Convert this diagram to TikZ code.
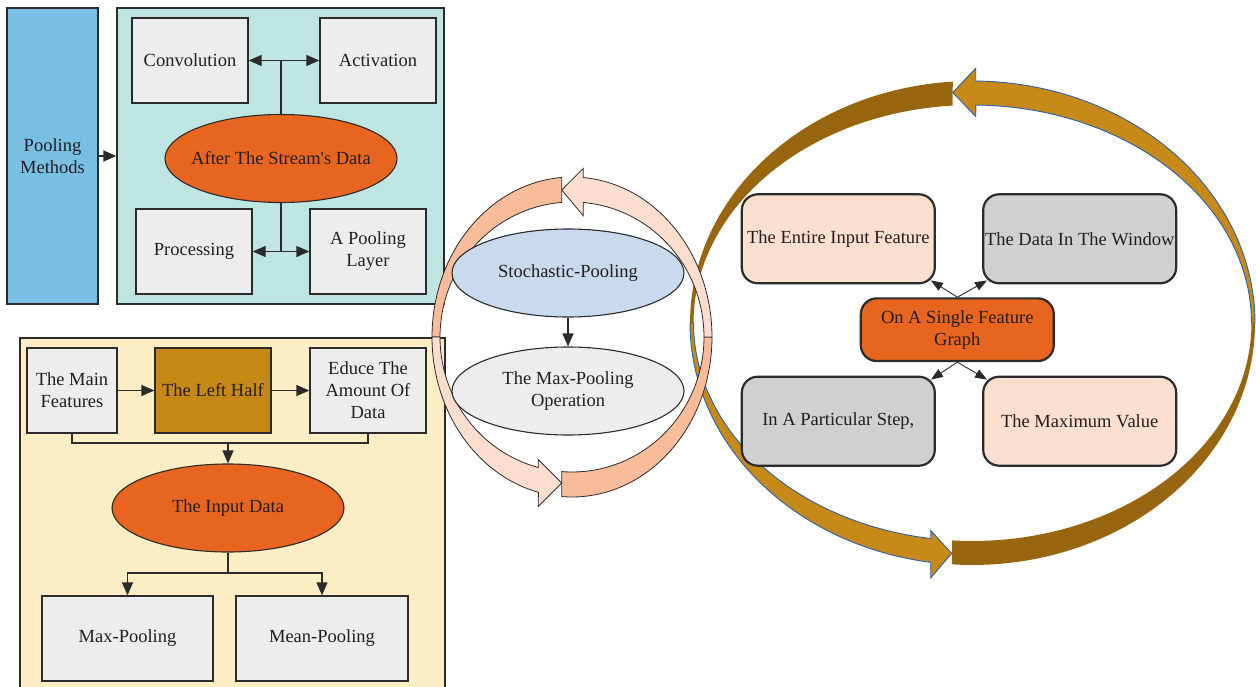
\documentclass[tikz,border=0pt]{standalone}
\usepackage{fontspec}
\setmainfont{Liberation Serif}
\usetikzlibrary{arrows.meta,shapes.geometric}
\definecolor{pmblue}{HTML}{79BFE4}
\definecolor{tealbg}{HTML}{BFE5E3}
\definecolor{boxgray}{HTML}{EDEDED}
\definecolor{orng}{HTML}{E8651F}
\definecolor{yelbg}{HTML}{FDEDC4}
\definecolor{goldbox}{HTML}{C68916}
\definecolor{stoch}{HTML}{C9DAEE}
\definecolor{peach}{HTML}{FCDFCF}
\definecolor{grybox}{HTML}{CFD0D2}
\definecolor{salD}{HTML}{F9BC98}
\definecolor{salL}{HTML}{FDDECE}
\definecolor{brD}{HTML}{97660F}
\definecolor{brL}{HTML}{C78A18}
\definecolor{edge}{HTML}{2B2B2B}
\definecolor{txt}{HTML}{231F20}
\definecolor{blu}{HTML}{2A62A8}
\begin{document}
\begin{tikzpicture}[x=1pt,y=-1pt,
  every node/.style={font=\fontsize{18.5}{22}\selectfont, text=txt},
  panel/.style={draw=edge, line width=1.3, inner sep=0},
  sqbox/.style={draw=edge, line width=1.3, fill=boxgray, minimum width=116, minimum height=85, inner sep=1, align=center},
  ellnode/.style={ellipse, draw=edge, line width=1.1, minimum width=232, minimum height=88, inner sep=0, inner xsep=-8pt, align=center},
  rbox/.style={draw=edge, line width=2.2, rounded corners=16, minimum width=193, minimum height=89, inner sep=1, align=center},
  arr/.style={draw=edge, line width=1.3, -{Triangle[length=13,width=11]}},
  sarr/.style={draw=edge, line width=0.9, -{Triangle[length=12,width=9]}},
  conn/.style={draw=edge, line width=1.3}
]
\useasboundingbox (0,0) rectangle (1256,687);

% ---------------- left top panel ----------------
\node[panel, fill=pmblue, minimum width=91, minimum height=296, align=center] (pm) at (52.5,156) {Pooling\\Methods};
\node[panel, fill=tealbg, minimum width=327, minimum height=296] (tealpanel) at (280.5,156) {};
\node[sqbox] (conv) at (190,60.5) {Convolution};
\node[sqbox] (act) at (378,60.5) {Activation};
\node[ellnode, fill=orng] (stream) at (281,158.5) {After The Stream\textquotesingle s Data};
\node[sqbox] (proc) at (194,251.5) {Processing};
\node[sqbox] (pool) at (368,251.5) {A Pooling\\Layer};
\draw[arr] (pm.east) -- (tealpanel.west);
\coordinate (j1) at (stream.north |- conv.east);
\draw[conn] (stream.north) -- (j1);
\draw[arr] (j1) -- (conv.east);
\draw[arr] (j1) -- (act.west);
\coordinate (j2) at (stream.south |- proc.east);
\draw[conn] (stream.south) -- (j2);
\draw[arr] (j2) -- (proc.east);
\draw[arr] (j2) -- (pool.west);

% ---------------- left bottom panel ----------------
\node[panel, fill=yelbg, minimum width=425, minimum height=362] (yelpanel) at (232.5,519) {};
\node[sqbox, minimum width=90] (mainf) at (72,390.5) {The Main\\Features};
\node[sqbox, fill=goldbox] (lefth) at (213,390.5) {The Left Half};
\node[sqbox] (educe) at (368,390.5) {Educe The\\Amount Of\\Data};
\draw[arr] (mainf.east) -- (lefth.west);
\draw[arr] (lefth.east) -- (educe.west);
\node[ellnode, fill=orng] (input) at (228,508) {The Input Data};
\coordinate (j3) at (228,443);
\draw[conn] (mainf.south) |- (j3) -| (educe.south);
\draw[arr] (j3) -- (input.north);
\node[sqbox, minimum width=171] (maxp) at (127.5,638.5) {Max-Pooling};
\node[sqbox, minimum width=172] (meanp) at (322,638.5) {Mean-Pooling};
\coordinate (j4) at (228,573);
\draw[conn] (input.south) -- (j4);
\draw[arr] (j4) -| (maxp.north);
\draw[arr] (j4) -| (meanp.north);

% ---------------- right big circular arrows ----------------
% arrow A' (bottom -> right -> top)
\fill[brD] plot[domain=94.2:0,samples=50] ({972.5+282.5*cos(\x)},{323+242*sin(\x)})
  -- plot[domain=0:94.2,samples=50] ({972.5+279*cos(\x)},{323+218*sin(\x)}) -- cycle;
\filldraw[fill=brL, draw=blu, line width=0.9] plot[domain=0:-89.35,samples=50] ({972.5+282.5*cos(\x)},{323+242*sin(\x)})
  -- (975.7,68.3) -- (952.7,92.5) -- (975.7,116.5)
  -- plot[domain=-89.3:0,samples=50] ({972.5+279*cos(\x)},{323+218*sin(\x)}) -- cycle;
% arrow B' (top -> left -> bottom)
\fill[brD] plot[domain=266:180,samples=50] ({972.5+282.5*cos(\x)},{323+242*sin(\x)})
  -- plot[domain=180:265.9,samples=50] ({972.5+279*cos(\x)},{323+218*sin(\x)}) -- cycle;
\filldraw[fill=brL, draw=blu, line width=0.9] plot[domain=180:98.5,samples=50] ({972.5+282.5*cos(\x)},{323+242*sin(\x)})
  -- (930.7,578) -- (951.7,553.3) -- (930.7,530.5)
  -- plot[domain=98.6:180,samples=50] ({972.5+279*cos(\x)},{323+218*sin(\x)}) -- cycle;

% ---------------- middle circular arrows ----------------
% arrow A (bottom -> right -> top)
\filldraw[fill=salD, draw=edge, line width=0.8] plot[domain=94.2:0,samples=50] ({572+140*cos(\x)},{337+160*sin(\x)})
  -- plot[domain=0:94.5,samples=50] ({572+132*cos(\x)},{337+135*sin(\x)}) -- cycle;
\filldraw[fill=salL, draw=edge, line width=0.8] plot[domain=0:-85.4,samples=50] ({572+140*cos(\x)},{337+160*sin(\x)})
  -- (583.3,168.3) -- (561.7,190) -- (583.3,215.7)
  -- plot[domain=-85.1:0,samples=50] ({572+132*cos(\x)},{337+135*sin(\x)}) -- cycle;
% arrow B (top -> left -> bottom)
\filldraw[fill=salD, draw=edge, line width=0.8] plot[domain=265.8:180,samples=50] ({572+140*cos(\x)},{337+160*sin(\x)})
  -- plot[domain=180:265.5,samples=50] ({572+132*cos(\x)},{337+135*sin(\x)}) -- cycle;
\filldraw[fill=salL, draw=edge, line width=0.8] plot[domain=180:103.9,samples=50] ({572+140*cos(\x)},{337+160*sin(\x)})
  -- (538.3,506.5) -- (561.7,483) -- (538.3,459.5)
  -- plot[domain=104.8:180,samples=50] ({572+132*cos(\x)},{337+135*sin(\x)}) -- cycle;

\node[ellnode, fill=stoch] (stochp) at (568,273) {Stochastic-Pooling};
\node[ellnode, fill=boxgray] (maxop) at (568,391) {The Max-Pooling\\Operation};
\draw[arr] (stochp.south) -- (maxop.north);

% ---------------- right boxes ----------------
\node[rbox, fill=peach] (entire) at (838.3,238.8) {The Entire Input Feature};
\node[rbox, fill=grybox] (datawin) at (1079.7,238.8) {The Data In The Window};
\node[rbox, fill=orng, minimum height=62.7] (single) at (957.3,329.7) {On A Single Feature\\Graph};
\node[rbox, fill=grybox] (partstep) at (838.3,421.2) {In A Particular Step,};
\node[rbox, fill=peach] (maxval) at (1079.7,421.2) {The Maximum Value};
\draw[sarr] (single.north) -- ([xshift=-5pt,yshift=4pt]entire.south east);
\draw[sarr] (single.north) -- ([xshift=5pt,yshift=4pt]datawin.south west);
\draw[sarr] (single.south) -- ([xshift=-5pt,yshift=-4pt]partstep.north east);
\draw[sarr] (single.south) -- ([xshift=5pt,yshift=-4pt]maxval.north west);
\end{tikzpicture}
\end{document}
